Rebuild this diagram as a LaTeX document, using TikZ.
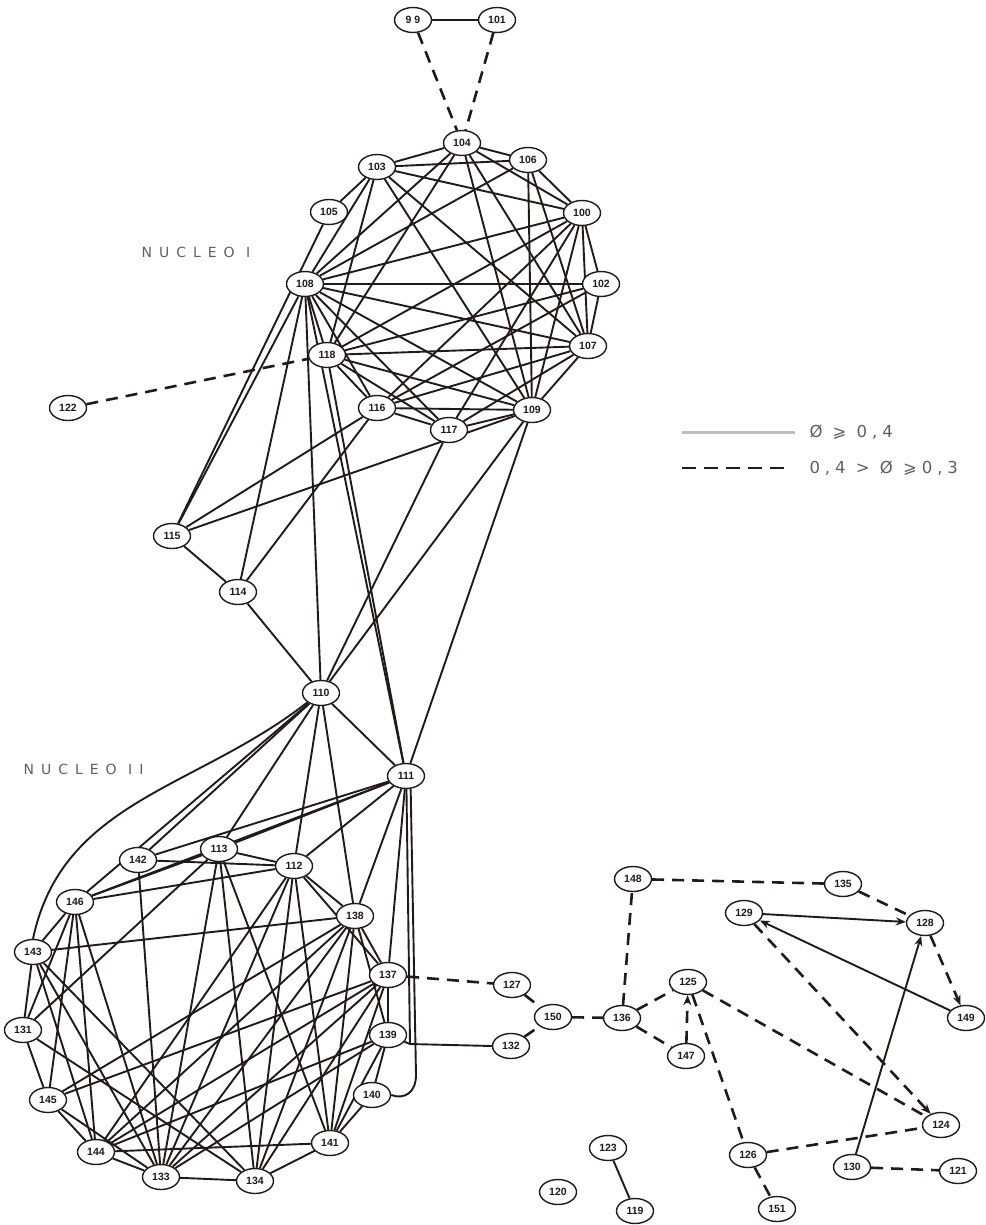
\documentclass[tikz,border=0pt]{standalone}
\usepackage{fontspec}
\newfontfamily\labfont{Liberation Sans}
\newfontfamily\nucfont[LetterSpace=50]{DejaVu Sans}
\newfontfamily\legfont[LetterSpace=30]{DejaVu Sans}
\usetikzlibrary{shapes.geometric,backgrounds,arrows.meta}
\definecolor{ink}{RGB}{34,26,24}
\definecolor{legtxt}{RGB}{95,95,95}
\definecolor{leggray}{RGB}{190,190,190}
\begin{document}
\begin{tikzpicture}[x=1pt,y=-1pt,
  nd/.style={ellipse,draw=ink,line width=1.4pt,fill=white,minimum width=37pt,minimum height=25pt,inner sep=0.5pt,font=\labfont\bfseries\fontsize{10.5}{11}\selectfont,text=ink},
  edg/.style={draw=ink,line width=1.9pt},
  dsh/.style={draw=ink,line width=2.6pt,dash pattern=on 12pt off 8pt},
  arr/.style={-{Stealth[length=10pt,width=8pt]}},
  nuc/.style={font=\nucfont\fontsize{14}{15}\selectfont,text=legtxt,anchor=west},
  leg/.style={font=\legfont\fontsize{16.5}{17}\selectfont,text=legtxt,anchor=west}]
\useasboundingbox (0,0) rectangle (985,1225);
% ---------- nodes ----------
\node[nd] (n99) at (413,20) {9 9};
\node[nd] (n101) at (497,20) {101};
\node[nd] (n104) at (462,143) {104};
\node[nd] (n103) at (377,167) {103};
\node[nd] (n106) at (528,160) {106};
\node[nd] (n105) at (329,212) {105};
\node[nd] (n100) at (582,213) {100};
\node[nd] (n108) at (305,284) {108};
\node[nd] (n102) at (601,284) {102};
\node[nd] (n107) at (588,346) {107};
\node[nd] (n118) at (327,355) {118};
\node[nd] (n116) at (377,408) {116};
\node[nd] (n109) at (532,410) {109};
\node[nd] (n117) at (449,430) {117};
\node[nd] (n122) at (68,408) {122};
\node[nd] (n115) at (172,536) {115};
\node[nd] (n114) at (238,592) {114};
\node[nd] (n110) at (321,693) {110};
\node[nd] (n111) at (406,776) {111};
\node[nd] (n142) at (138,860) {142};
\node[nd] (n113) at (219,849) {113};
\node[nd] (n112) at (294,866) {112};
\node[nd] (n146) at (75,902) {146};
\node[nd] (n138) at (355,916) {138};
\node[nd] (n143) at (33,952) {143};
\node[nd] (n137) at (388,975) {137};
\node[nd] (n131) at (23,1030) {131};
\node[nd] (n139) at (388,1035) {139};
\node[nd] (n145) at (48,1100) {145};
\node[nd] (n140) at (372,1095) {140};
\node[nd] (n144) at (96,1152) {144};
\node[nd] (n141) at (330,1143) {141};
\node[nd] (n133) at (161,1177) {133};
\node[nd] (n134) at (255,1181) {134};
\node[nd] (n127) at (512,985) {127};
\node[nd] (n150) at (553,1017) {150};
\node[nd] (n132) at (511,1046) {132};
\node[nd] (n148) at (633,879) {148};
\node[nd] (n136) at (622,1018) {136};
\node[nd] (n125) at (688,982) {125};
\node[nd] (n147) at (686,1056) {147};
\node[nd] (n135) at (843,884) {135};
\node[nd] (n129) at (744,913) {129};
\node[nd] (n128) at (925,923) {128};
\node[nd] (n149) at (966,1018) {149};
\node[nd] (n124) at (941,1125) {124};
\node[nd] (n126) at (748,1155) {126};
\node[nd] (n130) at (852,1167) {130};
\node[nd] (n121) at (958,1171) {121};
\node[nd] (n151) at (777,1209) {151};
\node[nd] (n123) at (608,1148) {123};
\node[nd] (n119) at (635,1211) {119};
\node[nd] (n120) at (558,1192) {120};
% ---------- texts ----------
\node[nuc] (t1) at (138,252) {NUCLEO I};
\node[nuc] (t2) at (20,769) {NUCLEO II};
\coordinate (la) at (682,432);
\coordinate (lb) at (795,432);
\coordinate (lc) at (682,468);
\coordinate (ld) at (792,468);
\node[leg] (t3) at (806,432) {Ø ⩾ 0,4};
\node[leg] (t4) at (806,468) {0,4 > Ø ⩾0,3};
\coordinate (c139) at (410,1044);
% ---------- edges ----------
\begin{pgfonlayer}{background}
\draw[leggray,line width=3pt] (la) -- (lb);
\draw[dsh,dash pattern=on 14pt off 8pt] (lc) -- (ld);
% top
\draw[edg,line width=2.8pt] (n99) -- (n101);
\draw[dsh] (n99) -- (n104);
\draw[dsh] (n101) -- (n104);
% nucleo I
\foreach \a/\b in {103/105,103/104,104/106,106/100,100/102,102/107,107/109,109/117,117/116,116/118,118/108,103/106,
  108/103,108/104,108/106,108/100,108/102,108/107,108/109,108/117,108/116,
  100/103,100/104,100/118,100/116,100/117,100/109,100/107,
  103/107,103/109,103/118,104/118,104/107,104/109,106/107,106/109,
  118/107,118/102,118/109,118/117,116/109,116/102,116/107,117/107,
  105/115,108/115,108/114,108/110,108/111,118/111,114/116,114/115,114/110,115/116,115/109,117/110,109/110,109/111,110/111}
  {\draw[edg] (n\a) -- (n\b);}
\draw[dsh] (n122) -- (n118);
% nucleo II
\foreach \a/\b in {110/146,110/142,110/113,110/112,110/138,
  111/142,111/146,111/113,111/112,111/138,111/137,
  142/133,142/112,113/146,113/112,113/133,113/134,113/141,113/131,
  112/146,112/138,112/137,112/133,112/144,112/141,112/134,
  138/143,138/137,138/133,138/144,138/145,138/141,138/134,138/139,
  137/133,137/144,137/145,137/141,137/134,137/139,
  139/133,139/141,139/140,139/144,140/141,141/144,141/134,
  133/134,133/144,133/145,133/143,133/146,134/143,134/131,
  144/145,144/143,144/146,145/131,145/146,131/143,131/146,143/146}
  {\draw[edg] (n\a) -- (n\b);}
\draw[edg] (n143.north) to[out=78,in=218] (n110.south west);
\draw[edg] (n111.-88) -- (c139) -- (n132.west);
\draw[edg] (n139) -- (c139);
\draw[edg] (n111.-70) -- (416,1075) .. controls (416,1092) and (405,1100) .. (n140.east);
% right side
\foreach \a/\b in {137/127,127/150,132/150,150/136,136/148,148/135,135/128,136/125,136/147,125/126,125/124,126/124,126/151,130/121}
  {\draw[dsh] (n\a) -- (n\b);}
\draw[dsh,arr] (n147) -- (n125);
\draw[dsh,arr] (n128) -- (n149);
\draw[dsh,arr] (n129) -- (n124);
\draw[edg,arr] (n129) -- (n128);
\draw[edg,arr] (n149) -- (n129);
\draw[edg,arr] (n130) -- (n128);
\draw[edg] (n123) -- (n119);
\end{pgfonlayer}
\end{tikzpicture}
\end{document}
